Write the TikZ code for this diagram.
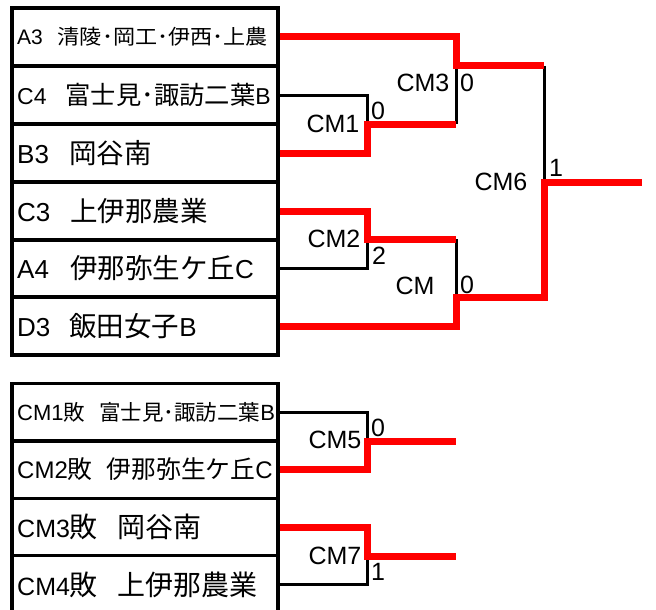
\documentclass[tikz,border=0pt]{standalone}
\usepackage{fontspec}
\usepackage{graphicx}
\setmainfont{Liberation Sans}
\newfontfamily\jp{Noto Sans CJK JP}
\newcommand\fs[1]{\fontsize{#1}{#1}\selectfont}
\begin{document}
\begin{tikzpicture}[x=1pt,y=-1pt,
  rowbox/.style={draw=black,line width=3.2pt,minimum width=266pt,inner sep=0pt},
  txt/.style={anchor=west,inner sep=0pt},
  bk/.style={line width=3pt,black},
  win/.style={line width=7pt,red,line join=miter},
  lbl/.style={inner sep=0pt,font=\fs{25}},
  score/.style={inner sep=0pt,font=\fs{25}}]
\useasboundingbox (0,0) rectangle (656,610);
\clip (0,0) rectangle (656,610);
% top table
\node[rowbox,minimum height=58pt] (r1) at (145,37) {};
\node[rowbox,minimum height=58pt] (r2) at (145,95) {};
\node[rowbox,minimum height=58pt] (r3) at (145,153) {};
\node[rowbox,minimum height=58pt] (r4) at (145,211) {};
\node[rowbox,minimum height=58pt] (r5) at (145,268.5) {};
\node[rowbox,minimum height=58pt] (r6) at (145,326) {};
\node[txt] (t1) at (17,37) {{\fs{21}A3}\hspace{15pt}\resizebox*{210pt}{19pt}{\fs{24}\jp 清陵･岡工･伊西･上農}};
\node[txt] (t2) at (17,95) {{\fs{23}C4}\hspace{19pt}{\fs{25.3}\jp 富士見･諏訪二葉}{\fs{23}B}};
\node[txt] (t3) at (17,153) {{\fs{26}B3}\hspace{20pt}{\fs{27.5}\jp 岡谷南}};
\node[txt] (t4) at (17,211) {{\fs{26}C3}\hspace{20pt}{\fs{27.5}\jp 上伊那農業}};
\node[txt] (t5) at (17,268.5) {{\fs{26}A4}\hspace{21pt}{\fs{27.5}\jp 伊那弥生ケ丘}{\fs{26}C}};
\node[txt] (t6) at (17,326) {{\fs{26}D3}\hspace{19pt}{\fs{27.5}\jp 飯田女子}{\fs{26}B}};
% bottom table
\node[rowbox,minimum height=57.3pt] (b1) at (145,412.5) {};
\node[rowbox,minimum height=57.3pt] (b2) at (145,469.5) {};
\node[rowbox,minimum height=57.3pt] (b3) at (145,527) {};
\node[rowbox,minimum height=57.3pt] (b4) at (145,584.5) {};
\node[txt] (u1) at (17,412.5) {{\fs{22}CM1}{\fs{21.5}\jp 敗}\hspace{14pt}{\fs{21.5}\jp 富士見･諏訪二葉}{\fs{22}B}};
\node[txt] (u2) at (17,469.5) {{\fs{24}CM2}{\fs{24.8}\jp 敗}\hspace{14pt}{\fs{24.8}\jp 伊那弥生ケ丘}{\fs{24}C}};
\node[txt] (u3) at (17,527) {{\fs{25}CM3}{\fs{28}\jp 敗}\hspace{20pt}{\fs{28}\jp 岡谷南}};
\node[txt] (u4) at (17,584.5) {{\fs{25}CM4}{\fs{28}\jp 敗}\hspace{20pt}{\fs{28}\jp 上伊那農業}};
% bracket coordinates
\coordinate (cm1m) at (367,124);
\coordinate (cm3t) at (456,66);
\coordinate (cm3b) at (456,124);
\coordinate (cm2m) at (367,239);
\coordinate (cmt) at (456,239);
\coordinate (cmb) at (456,297);
\coordinate (cm6t) at (544,66);
\coordinate (cm6m) at (544,182);
\coordinate (cm6b) at (544,297);
\coordinate (fin) at (642,182);
\coordinate (cm5m) at (367,441);
\coordinate (cm5e) at (456,441);
\coordinate (cm7m) at (367,556);
\coordinate (cm7e) at (456,556);
% black lines
\draw[bk] (r2.east) -| (cm1m);
\draw[bk] (r5.east) -| (cm2m);
\draw[bk] (cm3t) -- (cm3b);
\draw[bk] (cmt) -- (cmb);
\draw[bk] (cm6t) -- (cm6m);
\draw[bk] (b1.east) -| (cm5m);
\draw[bk] (b4.east) -| (cm7m);
% winner lines
\draw[win] (r1.east) -| (cm3t) -- (cm6t);
\draw[win] (r3.east) -| (cm1m) -- (cm3b);
\draw[win] (r4.east) -| (cm2m) -- (cmt);
\draw[win] (r6.east) -| (cmb) -- (cm6b) -- (cm6m) -- (fin);
\draw[win] (b2.east) -| (cm5m) -- (cm5e);
\draw[win] (b3.east) -| (cm7m) -- (cm7e);
% labels
\node[lbl] (l1) at (333,124) {CM1};
\node[lbl] (l3) at (423,83) {CM3};
\node[lbl] (l6) at (501,182) {CM6};
\node[lbl] (l2) at (334,239) {CM2};
\node[lbl] (l4) at (415,286) {CM};
\node[lbl] (l5) at (335,440) {CM5};
\node[lbl] (l7) at (335,556) {CM7};
\node[score] (s1) at (378,111) {0};
\node[score] (s3) at (467,83) {0};
\node[score] (s6) at (556,168) {1};
\node[score] (s2) at (379,256) {2};
\node[score] (s4) at (467,285) {0};
\node[score] (s5) at (378,428) {0};
\node[score] (s7) at (378,572) {1};
\end{tikzpicture}
\end{document}
